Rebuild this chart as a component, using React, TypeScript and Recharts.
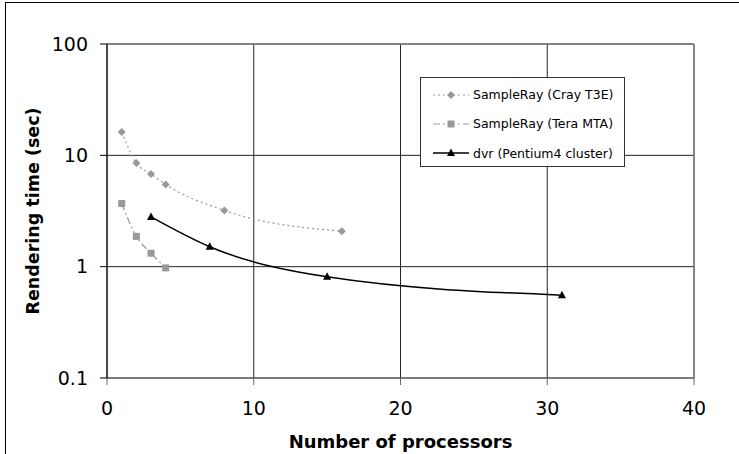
import { LineChart, Line, XAxis, YAxis, CartesianGrid, ReferenceLine } from "recharts";

const crayProcs = [1, 2, 3, 4, 8, 16];
const crayTimes = [16.2, 8.55, 6.8, 5.47, 3.2, 2.08];
const teraProcs = [1, 2, 3, 4];
const teraTimes = [3.69, 1.87, 1.32, 0.975];
const dvrProcs = [3, 7, 15, 31];
const dvrTimes = [2.8, 1.51, 0.81, 0.555];

const xTicks = [0, 10, 20, 30, 40];
const yTicks = [0.1, 1, 10, 100];

const seriesNames = ["SampleRay (Cray T3E)", "SampleRay (Tera MTA)", "dvr (Pentium4 cluster)"];

const toRows = (xs: number[], ys: number[]) => xs.map((x, i) => ({ x, y: ys[i] }));

const crayData = toRows(crayProcs, crayTimes);
const teraData = toRows(teraProcs, teraTimes);
const dvrData = toRows(dvrProcs, dvrTimes);

const FONT = "'DejaVu Sans', Verdana, sans-serif";

const Diamond = ({ cx, cy, fill }: any) => (
  <path d={`M${cx},${cy - 4}L${cx + 4},${cy}L${cx},${cy + 4}L${cx - 4},${cy}Z`} fill={fill} />
);
const Square = ({ cx, cy, fill }: any) => (
  <rect x={cx - 3.5} y={cy - 3.5} width={7} height={7} fill={fill} />
);
const Triangle = ({ cx, cy, fill }: any) => (
  <path d={`M${cx},${cy - 4.5}L${cx + 4},${cy + 3}L${cx - 4},${cy + 3}Z`} fill={fill} />
);

const styles = [
  { stroke: "#999999", dash: "2 3", width: 1.2, Marker: Diamond },
  { stroke: "#999999", dash: "7 3 2 3", width: 1.2, Marker: Square },
  { stroke: "#000000", dash: undefined, width: 1.5, Marker: Triangle },
];

function LegendBox() {
  return (
    <div
      style={{
        position: "absolute",
        left: 420,
        top: 77,
        width: 203,
        height: 88,
        border: "1px solid #333",
        background: "#fff",
        fontFamily: FONT,
        fontSize: 12.5,
      }}
    >
      {seriesNames.map((name, i) => {
        const s = styles[i];
        const M = s.Marker;
        return (
          <div key={name} style={{ display: "flex", alignItems: "center", height: 29.3, marginTop: i === 0 ? 2 : 0 }}>
            <svg width={40} height={12} style={{ marginLeft: 11 }}>
              <line x1={1} y1={6} x2={37} y2={6} stroke={s.stroke} strokeWidth={s.width} strokeDasharray={s.dash} />
              <M cx={19} cy={6} fill={s.stroke} />
            </svg>
            <span style={{ marginLeft: 1, whiteSpace: "nowrap" }}>{name}</span>
          </div>
        );
      })}
    </div>
  );
}

export default function App() {
  return (
    <div style={{ position: "absolute", left: 0, top: 0, width: 739, height: 454, overflow: "hidden", background: "#fff" }}>
      <div
        style={{
          position: "absolute",
          left: 5,
          top: 2,
          width: 900,
          height: 700,
          borderLeft: "1px solid #000",
          borderTop: "1px solid #000",
        }}
      />
      <LineChart
        width={739}
        height={454}
        margin={{ top: 44, right: 45, bottom: 0, left: 0 }}
        style={{ fontFamily: FONT }}
      >
        <CartesianGrid stroke="#222" strokeWidth={1} />
        <XAxis
          type="number"
          dataKey="x"
          domain={[0, 40]}
          ticks={xTicks}
          allowDataOverflow
          height={76}
          tickSize={7}
          tickMargin={17}
          stroke="#666"
          tick={{ fill: "#000", fontSize: 19 }}
          label={{
            value: "Number of processors",
            position: "insideBottom",
            offset: 6,
            style: { fontWeight: "bold", fontSize: 18, fill: "#000" },
          }}
        />
        <YAxis
          type="number"
          dataKey="y"
          scale="log"
          domain={[0.1, 100]}
          ticks={yTicks}
          allowDataOverflow
          width={107}
          tickSize={7}
          tickMargin={12}
          stroke="#000"
          tick={{ fill: "#000", fontSize: 19 }}
          tickFormatter={(v: number) => String(v)}
          label={{
            value: "Rendering time (sec)",
            angle: -90,
            position: "insideLeft",
            offset: 33,
            style: { fontWeight: "bold", fontSize: 17.5, fill: "#000", textAnchor: "middle" },
          }}
        />
        <ReferenceLine y={100} stroke="#808080" strokeWidth={1.5} />
        <ReferenceLine x={40} stroke="#808080" strokeWidth={1.5} />
        {[crayData, teraData, dvrData].map((d, i) => {
          const s = styles[i];
          const M = s.Marker;
          return (
            <Line
              key={seriesNames[i]}
              data={d}
              dataKey="y"
              name={seriesNames[i]}
              type="monotone"
              stroke={s.stroke}
              strokeWidth={s.width}
              strokeDasharray={s.dash}
              dot={(p: any) => <M key={p.index} cx={p.cx} cy={p.cy} fill={s.stroke} />}
              activeDot={false}
              isAnimationActive={false}
            />
          );
        })}
      </LineChart>
      <LegendBox />
    </div>
  );
}
